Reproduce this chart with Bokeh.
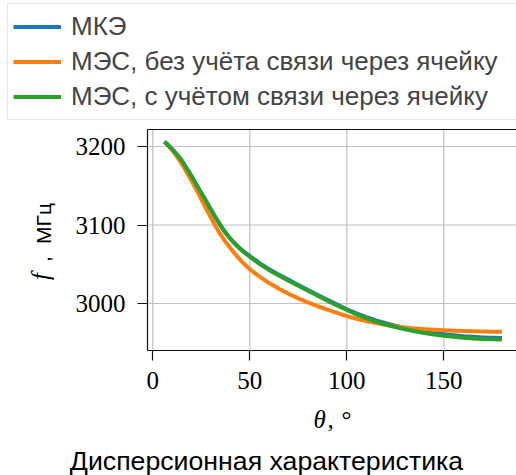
import math
from bokeh.plotting import figure
from bokeh.models import (Range1d, Legend, LegendItem, FixedTicker, Label,
                          LinearAxis)
from bokeh.embed import file_html
from bokeh.resources import INLINE

# ---- data ----
theta = [6, 8, 10, 12, 14, 16, 18, 20, 22, 24, 26, 28, 30, 32, 34, 36, 38, 40,
         43, 46, 50, 55, 60, 65, 70, 75, 80, 85, 90, 95, 100, 105, 110, 115,
         120, 125, 130, 135, 140, 145, 150, 155, 160, 165, 170, 175, 180]
f_mke = [3206, 3201.5, 3196.5, 3191, 3185, 3178, 3170, 3162, 3153.5, 3145,
         3136.5, 3128, 3119.5, 3111, 3103, 3095.5, 3088.5, 3082.5, 3074.7,
         3068.0, 3060.5, 3051.5, 3043.5, 3036.7, 3030.1, 3023.6, 3017.2,
         3010.9, 3004.7, 2998.6, 2992.7, 2987.4, 2982.6, 2978.4, 2974.8,
         2971.7, 2969.0, 2966.6, 2964.5, 2962.6, 2961.0, 2959.6, 2958.4,
         2957.5, 2956.8, 2956.3, 2956.0]
f_mes_without = [3206, 3201, 3195.3, 3188.7, 3181.3, 3173.3, 3165.1, 3156.3,
                 3147.1, 3137.6, 3128, 3118.4, 3109, 3100, 3091.6, 3083.9,
                 3076.9, 3070.4, 3061.4, 3053.1, 3043.5, 3034.3, 3026, 3018.8,
                 3012.3, 3006.5, 3001.3, 2996.5, 2992.1, 2988.1, 2984, 2980.6,
                 2977.6, 2975, 2972.8, 2971, 2969.5, 2968.3, 2967.3, 2966.5,
                 2965.8, 2965.3, 2964.9, 2964.6, 2964.3, 2964.1, 2964]
f_mes_with = [3206, 3201.5, 3196.5, 3191, 3185, 3178, 3170, 3162, 3153.5, 3145,
              3136.5, 3128, 3119.5, 3111, 3103, 3095.5, 3088.5, 3082.5, 3074.2,
              3067.2, 3059.5, 3050.5, 3042.5, 3035.7, 3029.1, 3022.6, 3016.2,
              3009.9, 3003.7, 2997.6, 2991.7, 2986.2, 2981.2, 2976.9, 2973.2,
              2970.0, 2967.2, 2964.7, 2962.5, 2960.6, 2959.0, 2957.6, 2956.4,
              2955.5, 2954.8, 2954.3, 2954.0]
x_ticks = [0, 50, 100, 150]
y_ticks = [3000, 3100, 3200]
series_labels = ["МКЭ", "МЭС, без учёта связи через ячейку",
                 "МЭС, с учётом связи через ячейку"]
series_colors = ["#1f77b4", "#ff7f0e", "#2ca02c"]
series_values = [f_mke, f_mes_without, f_mes_with]
title_text = "Дисперсионная характеристика"

# ---- layout constants (pixels on the 516x475 canvas) ----
W, H = 516, 475
AX_LEFT, AX_TOP, AX_BOTTOM = 147, 129, 350     # plot-area edges
PX_PER_X = 1.94                                # px per degree
X0_PX = 152.3                                  # where theta = 0 sits
PX_PER_Y = 0.785                               # px per MHz
Y3000_PX = 303.0                               # where f = 3000 sits

def xval(px):
    return (px - X0_PX) / PX_PER_X

def yval(py):
    return 3000 + (Y3000_PX - py) / PX_PER_Y

x_left, x_right = xval(AX_LEFT), xval(W)
y_bottom, y_top = yval(AX_BOTTOM), yval(AX_TOP)

p = figure(width=W, height=H, output_backend="svg", toolbar_location=None,
           title=None,
           x_range=Range1d(xval(0), xval(W)), y_range=Range1d(yval(H), yval(0)),
           min_border_left=0, min_border_right=0, min_border_top=0,
           min_border_bottom=0)
p.outline_line_color = None
p.background_fill_color = "white"
p.border_fill_color = "white"
p.xgrid.visible = False
p.ygrid.visible = False

# grid lines limited to the plot area, at the tick values
grid_col = "#c0c0c0"
p.segment(x0=x_ticks, y0=[y_bottom] * len(x_ticks), x1=x_ticks,
          y1=[y_top] * len(x_ticks), line_color=grid_col, line_width=1.2)
p.segment(x0=[x_left] * len(y_ticks), y0=y_ticks, x1=[x_right] * len(y_ticks),
          y1=y_ticks, line_color=grid_col, line_width=1.2)

renderers = []
for ys, c in zip(series_values, series_colors):
    renderers.append(p.line(theta, ys, line_color=c, line_width=4,
                            line_join="round"))

# axes pinned to the plot-area edges
xa = p.xaxis[0]
ya = p.yaxis[0]
xa.fixed_location = y_bottom
xa.bounds = (x_left, x_right)
ya.fixed_location = x_left
ya.bounds = (y_bottom, y_top)
xa.ticker = FixedTicker(ticks=x_ticks)
ya.ticker = FixedTicker(ticks=y_ticks)
for ax in (xa, ya):
    ax.major_label_text_font = "Liberation Serif"
    ax.major_label_text_font_size = "25px"
    ax.major_label_text_color = "black"
    ax.major_tick_out = 10
    ax.major_tick_in = 0
    ax.minor_tick_out = 0
    ax.minor_tick_in = 0
    ax.axis_line_color = "#111111"
    ax.axis_line_width = 1.2
    ax.major_tick_line_color = "#111111"
    ax.major_tick_line_width = 1.2
ya.major_label_standoff = 12
xa.major_label_standoff = 11

top = LinearAxis(fixed_location=y_top, bounds=(x_left, x_right),
                 ticker=FixedTicker(ticks=[]), axis_line_color="#111111",
                 axis_line_width=1.2, major_tick_out=0, minor_tick_out=0)
p.add_layout(top, "above")

legend = Legend(items=[LegendItem(label=l, renderers=[r])
                       for l, r in zip(series_labels, renderers)],
                location=(7, H - 120),
                label_text_font="Liberation Sans", label_text_font_size="26px",
                label_text_line_height=1.0,
                glyph_width=48, glyph_height=35, label_height=35,
                label_width=450, label_standoff=10, spacing=0, padding=5,
                margin=0, border_line_color="#cccccc", border_line_width=1,
                background_fill_color="white", background_fill_alpha=1)
p.add_layout(legend)

def lab(text, px, py, font, size, style="normal", angle=0, align="left"):
    p.add_layout(Label(x=px, y=H - py, x_units="screen", y_units="screen",
                       text=text, text_font=font, text_font_size=size,
                       text_font_style=style, angle=angle,
                       text_align=align, text_baseline="middle",
                       text_color="black"))

# x label  "θ, °"
lab("θ", 313, 418.6, "Liberation Serif", "25px", "italic")
lab(",", 327, 418.6, "Liberation Serif", "25px")
lab("°", 341, 418.6, "Liberation Serif", "25px")
# y label  "f, МГц"  (rotated, centred pieces)
lab("f", 40, 276, "Liberation Serif", "25px", "italic", math.pi / 2, "center")
lab(",", 42.7, 258.5, "Liberation Sans", "21px", "normal", math.pi / 2,
    "center")
lab("МГц", 42.7, 223, "Liberation Sans", "21px", "normal", math.pi / 2,
    "center")
# title
lab(title_text, 266, 460, "Liberation Sans", "26.7px", align="center")

open("out.html", "w").write(file_html(p, INLINE))
